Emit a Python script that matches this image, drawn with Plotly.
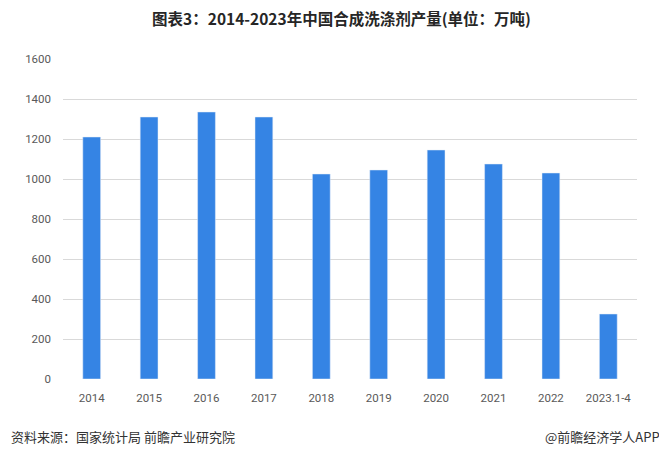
import plotly.graph_objects as go

years = ["2014", "2015", "2016", "2017", "2018", "2019", "2020", "2021", "2022", "2023.1-4"]
output = [1210, 1310, 1335, 1310, 1025, 1045, 1145, 1075, 1030, 325]
y_ticks = [0, 200, 400, 600, 800, 1000, 1200, 1400, 1600]

fig = go.Figure()
fig.add_trace(go.Bar(x=years, y=output, marker_color="#3584e4", width=0.31))

# page has an 8px body margin, so shift everything up/left by 8
fig.update_layout(
    width=667,
    height=457,
    margin=dict(l=55, r=38, t=51, b=86),
    plot_bgcolor="white",
    paper_bgcolor="white",
    showlegend=False,
    font=dict(family="Noto Sans CJK SC, sans-serif", color="#595959"),
    title=dict(
        text="<b>图表3：2014-2023年中国合成洗涤剂产量(单位：万吨)</b>",
        x=0.5, xanchor="center", y=0.974, yanchor="middle",
        font=dict(size=15.5, color="#262626"),
    ),
)
fig.update_xaxes(tickfont=dict(size=11.5, family="Roboto, sans-serif"), showline=False,
                 ticks="", ticklabelstandoff=10)
fig.update_yaxes(
    range=[0, 1600], tickvals=y_ticks, gridcolor="#d9d9d9", zeroline=False,
    tickfont=dict(size=11.5, family="Roboto, sans-serif"), ticks="", ticklen=0,
    ticklabelstandoff=11,
)

fig.add_annotation(text="资料来源：国家统计局 前瞻产业研究院", xref="paper", yref="paper",
                   x=-0.094, y=-0.181, xanchor="left", yanchor="middle", showarrow=False,
                   font=dict(size=13, color="#333333"))
fig.add_annotation(text="@前瞻经济学人APP", xref="paper", yref="paper",
                   x=1.044, y=-0.181, xanchor="right", yanchor="middle", showarrow=False,
                   font=dict(size=13, color="#333333"))

fig.write_html("out.html")
